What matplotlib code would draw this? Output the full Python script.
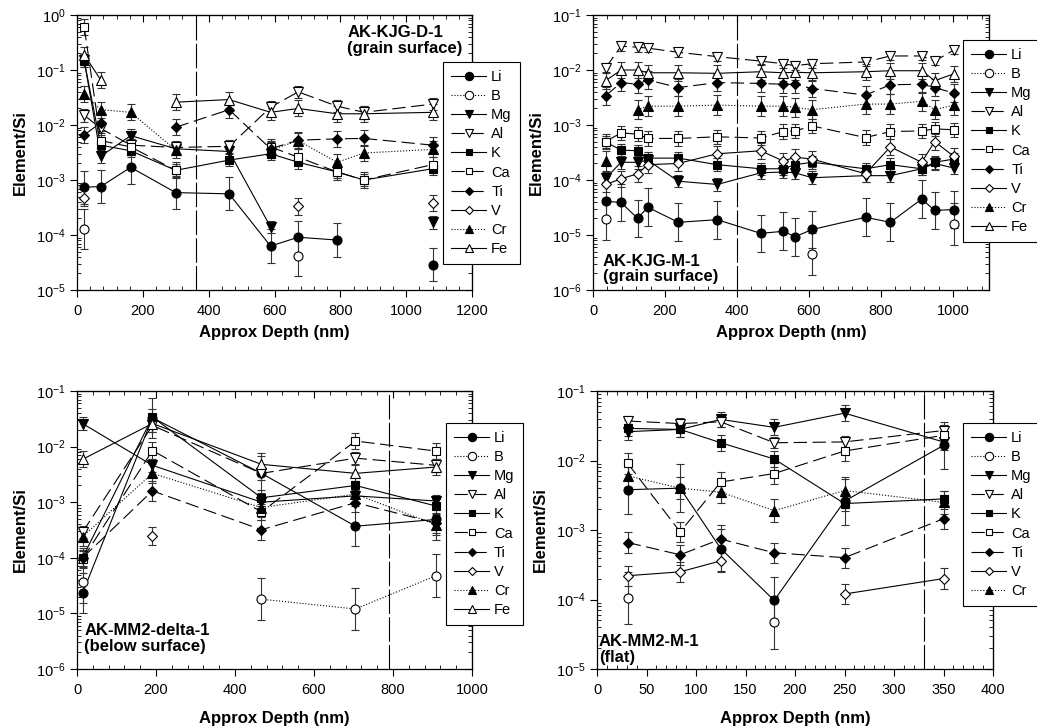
import numpy as np
import matplotlib
matplotlib.use("Agg")
import matplotlib.pyplot as plt
from matplotlib.lines import Line2D
from matplotlib.ticker import LogLocator, MultipleLocator, NullFormatter

plt.rcParams["font.family"] = ["Liberation Sans", "DejaVu Sans"]
plt.rcParams["mathtext.default"] = "regular"

nan = np.nan

# AK-KJG-D-1 (grain surface)
d1_x = [22, 72, 163, 300, 462, 588, 672, 790, 872, 1080]
d1 = {
    "Li": [7.4e-4, 7.6e-4, 1.7e-3, 5.9e-4, 5.6e-4, 6.3e-5, 9.1e-5, 8.1e-5, nan, 2.9e-5],
    "B":  [1.3e-4, nan, nan, nan, nan, nan, 4.2e-5, nan, nan, nan],
    "Mg": [0.15, 2.7e-3, 6.4e-3, 3.7e-3, 3.3e-3, 1.4e-4, nan, nan, nan, 1.7e-4],
    "Al": [1.5e-2, 8.7e-3, 4.3e-3, 3.9e-3, 4.1e-3, 2.1e-2, 4.0e-2, 2.2e-2, 1.7e-2, 2.4e-2],
    "K":  [0.145, 4.3e-3, 3.4e-3, 1.5e-3, 2.3e-3, 3.0e-3, 2.1e-3, 1.4e-3, 1.0e-3, 1.6e-3],
    "Ca": [0.6, 5.2e-3, 4.0e-3, 1.5e-3, nan, 4.0e-3, 2.6e-3, 1.4e-3, 1.0e-3, 1.9e-3],
    "Ti": [6.6e-3, 1.1e-2, nan, 9.1e-3, 1.9e-2, 3.7e-3, 5.3e-3, 5.6e-3, 5.7e-3, 4.3e-3],
    "V":  [4.8e-4, nan, nan, nan, nan, nan, 3.3e-4, nan, nan, 3.8e-4],
    "Cr": [3.6e-2, 1.9e-2, 1.7e-2, 3.5e-3, nan, 3.5e-3, 5.2e-3, 2.1e-3, 3.1e-3, 3.6e-3],
    "Fe": [0.19, 6.6e-2, nan, 2.6e-2, 2.9e-2, 1.7e-2, 2.0e-2, 1.6e-2, 1.6e-2, 1.7e-2],
}
d1_err = [2.0, 2.3, 1.3, 1.3, 1.3, 1.4, 1.4, 1.4, 1.4, 1.4]

# AK-KJG-M-1 (grain surface)
m1_x = [35, 78, 124, 152, 237, 345, 466, 529, 561, 609, 757, 826, 913, 949, 1002]
m1 = {
    "Li": [4.1e-5, 3.9e-5, 2.0e-5, 3.2e-5, 1.7e-5, 1.9e-5, 1.07e-5, 1.17e-5, 9.3e-6, 1.26e-5, 2.1e-5, 1.7e-5, 4.5e-5, 2.8e-5, 2.9e-5],
    "B":  [1.95e-5, nan, nan, nan, nan, nan, nan, nan, nan, 4.5e-6, nan, nan, nan, nan, 1.6e-5],
    "Mg": [1.07e-4, 2.1e-4, 2.1e-4, 2.3e-4, 9.5e-5, 8.3e-5, 1.35e-4, 1.4e-4, 1.35e-4, 1.1e-4, 1.2e-4, 1.2e-4, 1.6e-4, 2.0e-4, 1.65e-4],
    "Al": [1.1e-2, 2.7e-2, 2.6e-2, 2.5e-2, 2.1e-2, 1.75e-2, 1.45e-2, 1.3e-2, 1.2e-2, 1.3e-2, 1.4e-2, 1.8e-2, 1.8e-2, 1.45e-2, 2.3e-2],
    "K":  [4.9e-4, 3.5e-4, 3.4e-4, 2.5e-4, 2.5e-4, 1.9e-4, 1.6e-4, 1.6e-4, 1.9e-4, 2.1e-4, 1.6e-4, 1.9e-4, 1.6e-4, 2.1e-4, 2.4e-4],
    "Ca": [5.0e-4, 7.2e-4, 6.8e-4, 5.7e-4, 5.7e-4, 6.1e-4, 5.8e-4, 7.6e-4, 7.8e-4, 9.6e-4, 5.9e-4, 7.6e-4, 7.8e-4, 8.5e-4, 8.2e-4],
    "Ti": [3.4e-3, 5.9e-3, 5.5e-3, 6.6e-3, 4.8e-3, 5.9e-3, 5.7e-3, 5.5e-3, 5.5e-3, 4.6e-3, 3.5e-3, 5.4e-3, 5.5e-3, 4.8e-3, 3.8e-3],
    "V":  [8.3e-5, 1.05e-4, 1.3e-4, 1.9e-4, 2.0e-4, 3.0e-4, 3.4e-4, 2.2e-4, 2.6e-4, 2.4e-4, 1.3e-4, 4.0e-4, 2.1e-4, 5.0e-4, 2.7e-4],
    "Cr": [2.2e-4, nan, 1.9e-3, 2.2e-3, 2.2e-3, 2.3e-3, 2.2e-3, 2.2e-3, 2.1e-3, 1.9e-3, 2.4e-3, 2.4e-3, 2.7e-3, 1.9e-3, 2.3e-3],
    "Fe": [6.4e-3, 1.0e-2, 1.0e-2, 8.9e-3, 8.9e-3, 8.7e-3, 9.3e-3, 8.9e-3, 9.1e-3, 8.9e-3, 9.3e-3, 9.7e-3, 9.7e-3, 6.4e-3, 8.5e-3],
}
m1_err = [2.2, 2.4, 1.3, 1.2, 1.3, 1.35, 1.45, 1.4, 1.5, 1.4]

# AK-MM2-delta-1 (below surface)
dl_x = [14, 191, 467, 705, 910]
dl = {
    "Li": [2.3e-5, 3.3e-2, 3.3e-3, 3.7e-4, 4.9e-4],
    "B":  [3.7e-5, nan, 1.8e-5, 1.2e-5, 4.8e-5],
    "Mg": [2.6e-2, 4.6e-3, 1.0e-3, 1.3e-3, 1.05e-3],
    "Al": [2.9e-4, 2.4e-2, 3.3e-3, 6.2e-3, 4.6e-3],
    "K":  [1.0e-4, 3.4e-2, 1.2e-3, 2.0e-3, 8.5e-4],
    "Ca": [9.5e-5, 8.5e-3, 6.7e-4, 1.26e-2, 8.3e-3],
    "Ti": [1.0e-4, 1.6e-3, 3.2e-4, 9.8e-4, 4.2e-4],
    "V":  [nan, 2.5e-4, nan, nan, nan],
    "Cr": [2.4e-4, 3.3e-3, 8.0e-4, 1.4e-3, 3.9e-4],
    "Fe": [5.9e-3, 2.6e-2, 4.8e-3, 3.3e-3, 4.3e-3],
}
dl_err = [2.3, 2.4, 1.3, 1.3, 1.4, 1.4, 1.5, 1.45, 1.5, 1.4]

# AK-MM2-M-1 (flat)
mm_x = [31, 84, 125, 179, 250, 350]
mm = {
    "Li": [3.8e-3, 4.0e-3, 5.4e-4, 9.7e-5, 2.6e-3, 1.65e-2],
    "B":  [1.05e-4, nan, nan, 4.7e-5, nan, nan],
    "Mg": [2.6e-2, 2.8e-2, 3.9e-2, 3.0e-2, 4.8e-2, 1.85e-2],
    "Al": [3.7e-2, 3.4e-2, 3.6e-2, 1.8e-2, 1.85e-2, 2.7e-2],
    "K":  [2.9e-2, 2.8e-2, 1.8e-2, 1.05e-2, 2.4e-3, 2.8e-3],
    "Ca": [9.1e-3, 9.4e-4, 4.9e-3, 6.5e-3, 1.37e-2, 2.3e-2],
    "Ti": [6.6e-4, 4.4e-4, 7.4e-4, 4.7e-4, 4.0e-4, 1.45e-3],
    "V":  [2.2e-4, 2.5e-4, 3.6e-4, nan, 1.2e-4, 2.0e-4],
    "Cr": [6.0e-3, 4.0e-3, 3.5e-3, 1.9e-3, 3.7e-3, 2.5e-3],
}
mm_err = [2.2, 2.4, 1.3, 1.2, 1.3, 1.4, 1.4, 1.4, 1.45]

dash = (0, (12, 5))
styles = {
    "Li": ("o", "k", "-"),
    "B":  ("o", "w", ":"),
    "Mg": ("v", "k", "-"),
    "Al": ("v", "w", dash),
    "K":  ("s", "k", "-"),
    "Ca": ("s", "w", dash),
    "Ti": ("D", "k", dash),
    "V":  ("D", "w", "-"),
    "Cr": ("^", "k", ":"),
    "Fe": ("^", "w", "-"),
}
msize = {"o": 6.5, "v": 6.5, "s": 5.5, "D": 5, "^": 6.5}

W, H = 1037, 728
fig = plt.figure(figsize=(W / 100, H / 100), dpi=100)


def add_axes(l, t, r, b):
    return fig.add_axes([l / W, 1 - b / H, (r - l) / W, (b - t) / H])


def draw(ax, x, data, errs, xmax, xmajor, ylim, vline, label, label_pos, leg_pos, xpad):
    x = np.array(x, dtype=float)
    for el, f in zip(data.keys(), errs):
        v = np.array(data[el], dtype=float)
        mk, fc, ls = styles[el]
        ax.errorbar(x, v, yerr=[v - v / f, v * f - v], fmt="none", ecolor="0.2",
                    elinewidth=0.8, capsize=3, capthick=0.8, zorder=2)
        ax.plot(x, v, linestyle=ls, color="k", lw=0.8, marker=mk,
                markersize=msize[mk], markerfacecolor=fc, markeredgecolor="k",
                markeredgewidth=0.8, zorder=3)
    ax.axvline(vline, color="k", lw=0.8, linestyle=(0, (22, 3)), zorder=1)
    ax.set_yscale("log")
    ax.set_xlim(0, xmax)
    ax.set_ylim(*ylim)
    ax.xaxis.set_major_locator(MultipleLocator(xmajor))
    ax.xaxis.set_minor_locator(MultipleLocator(xmajor / 5))
    ax.yaxis.set_major_locator(LogLocator(base=10, numticks=12))
    ax.yaxis.set_minor_locator(LogLocator(base=10, subs=np.arange(2, 10), numticks=12))
    ax.yaxis.set_minor_formatter(NullFormatter())
    ax.tick_params(which="major", direction="out", length=5, width=0.8,
                   labelsize=10.5, pad=3)
    ax.tick_params(axis="x", which="major", pad=5)
    ax.tick_params(which="minor", direction="in", length=3, width=0.6)
    if xmax == 1100:
        ax.set_xticks([0, 200, 400, 600, 800, 1000])
    for s in ax.spines.values():
        s.set_linewidth(0.9)

    # mirrored inside ticks on top and right
    sx = ax.secondary_xaxis("top")
    sx.xaxis.set_major_locator(MultipleLocator(xmajor))
    sx.xaxis.set_minor_locator(MultipleLocator(xmajor / 5))
    sx.tick_params(which="major", direction="in", length=5, width=0.8, labeltop=False)
    sx.tick_params(which="minor", direction="in", length=3, width=0.6)
    sy = ax.secondary_yaxis("right")
    sy.set_yscale("log")
    sy.yaxis.set_major_locator(LogLocator(base=10, numticks=12))
    sy.yaxis.set_minor_locator(LogLocator(base=10, subs=np.arange(2, 10), numticks=12))
    sy.tick_params(which="major", direction="in", length=5, width=0.8, labelright=False)
    sy.tick_params(which="minor", direction="in", length=3, width=0.6, labelright=False)

    ax.set_xlabel("Approx Depth (nm)", fontsize=12, fontweight="bold", labelpad=xpad)
    ax.set_ylabel("Element/Si", fontsize=12, fontweight="bold", labelpad=6)

    tx, ty, va = label_pos
    ax.text(tx, ty, label, transform=ax.transAxes, ha="left", va=va,
            multialignment="left", fontsize=12, fontweight="bold",
            linespacing=1.08, zorder=5)

    handles = []
    for el in data.keys():
        mk, fc, ls = styles[el]
        handles.append(Line2D([], [], linestyle=ls, color="k", lw=0.8, marker=mk,
                              markersize=msize[mk] - 0.5, markerfacecolor=fc,
                              markeredgecolor="k", markeredgewidth=0.8))
    leg = ax.legend(handles, list(data.keys()), loc="upper left",
                    bbox_to_anchor=(leg_pos[0] / W, 1 - leg_pos[1] / H),
                    bbox_transform=fig.transFigure, borderaxespad=0,
                    fontsize=10.5, frameon=True, fancybox=False, framealpha=1,
                    edgecolor="k", handlelength=2.4, handletextpad=0.35,
                    labelspacing=0.35, borderpad=0.55)
    leg.get_frame().set_linewidth(0.8)
    leg.set_zorder(10)


ax1 = add_axes(77, 15, 472, 290)
draw(ax1, d1_x, d1, d1_err, 1200, 200, (1e-5, 1), 360,
     "AK-KJG-D-1\n(grain surface)", (0.684, 0.965, "top"), (443, 62), 5)

ax2 = add_axes(593, 15, 989, 290)
draw(ax2, m1_x, m1, m1_err, 1100, 200, (1e-6, 1e-1), 400,
     "AK-KJG-M-1\n(grain surface)", (0.025, 0.02, "bottom"), (963, 40), 5)

ax3 = add_axes(77, 391, 472, 669)
draw(ax3, dl_x, dl, dl_err, 1000, 200, (1e-6, 1e-1), 790,
     "AK-MM2-delta-1\n(below surface)", (0.018, 0.055, "bottom"), (446, 423), 10)

ax4 = add_axes(597, 391, 993, 669)
draw(ax4, mm_x, mm, mm_err, 400, 50, (1e-5, 1e-1), 330,
     "AK-MM2-M-1\n(flat)", (0.005, 0.015, "bottom"), (963, 423), 10)

fig.savefig("out.png", dpi=100)
